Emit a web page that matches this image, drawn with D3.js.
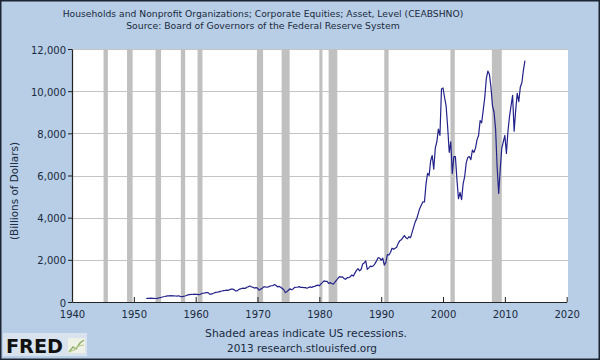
<!DOCTYPE html>
<html><head><meta charset="utf-8">
<script src="https://cdn.jsdelivr.net/npm/d3@7"></script>
<style>html,body{margin:0;padding:0;background:#b7cee6;}svg{display:block;}</style>
</head><body>
<svg id="c" width="600" height="360"></svg>
<script>
// Data: quarterly values (billions of dollars), starting 1952 Q1
const startYear = 1952;
const values = [
 165,170,170,180, 175,170,165,175, 190,205,225,250, 260,275,290,290,
 300,295,290,285, 280,295,270,250, 265,285,310,340, 350,360,355,370,
 360,365,350,365, 405,415,430,450, 445,370,375,400, 430,455,465,480,
 505,520,540,545, 560,550,590,610, 610,575,520,540, 600,620,650,660,
 640,700,720,760, 720,700,660,680, 660,560,610,650, 720,715,700,720,
 750,770,780,830, 780,720,740,700, 640,580,450,490, 560,630,580,620,
 690,700,700,730, 690,700,680,680, 650,690,720,690, 730,740,780,800,
 770,860,920,1000, 980,980,880,920, 880,850,930,1020, 1120,1200,1180,1190,
 1110,1080,1160,1150, 1200,1280,1230,1370, 1500,1580,1480,1540, 1800,1850,1950,1550,
 1620,1700,1680,1720, 1820,1950,2100,2080, 1980,2080,1750,1880, 2250,2230,2350,2550,
 2500,2550,2600,2780, 2900,2950,3050,3150, 3050,3000,3100,3050, 3300,3550,3800,3950,
 4200,4450,4600,4750, 4750,5600,6100,6000, 6700,6950,6300,7300, 7600,8200,7900,10100,
 10150,9700,9300,8300, 7100,7600,6100,6900, 6900,5800,4900,5200, 4850,5600,5950,6600,
 6850,6900,6750,7200, 7100,7300,7700,7900, 8600,8500,9100,9700, 10600,10950,10800,10200,
 9300,9000,8200,6400, 5150,6300,7300,7600, 7900,7050,8100,8800, 9300,9800,8100,9100,
 9900,9500,10200,10400, 11000,11450
];
// Recessions (start, end) in decimal years
const recStart = [1945.1,1948.9,1953.5,1957.6,1960.3,1969.9,1973.9,1980.0,1981.5,1990.5,2001.2,2007.9];
const recEnd   = [1945.8,1949.8,1954.4,1958.3,1961.1,1970.9,1975.2,1980.5,1982.9,1991.2,2001.9,2009.5];
const xTicks = [1940,1950,1960,1970,1980,1990,2000,2010,2020];
const yTicks = [0,2000,4000,6000,8000,10000,12000];
const titleLines = ["Households and Nonprofit Organizations; Corporate Equities; Asset, Level (CEABSHNO)",
                    "Source: Board of Governors of the Federal Reserve System"];
const footLines = ["Shaded areas indicate US recessions.", "2013 research.stlouisfed.org"];
const yLabel = "(Billions of Dollars)";

const data = values.map((v,i)=>({t: startYear + i/4, v}));
const svg = d3.select("#c");
const W=600,H=360;
const txt = "#1b2a40";
const font = "DejaVu Sans, Verdana, sans-serif";

svg.append("rect").attr("x",0).attr("y",0).attr("width",W).attr("height",H).attr("fill","#b7cee6");

const x = d3.scaleLinear().domain([1940,2020]).range([72,566.7]);
const y = d3.scaleLinear().domain([0,12000]).range([302,49]);

// plot background
svg.append("rect").attr("x",72).attr("y",49).attr("width",568-72).attr("height",302-49).attr("fill","#fff");

// gridlines
svg.append("g").selectAll("line").data(yTicks.filter(d=>d>0)).join("line")
  .attr("x1",72).attr("x2",568).attr("y1",d=>Math.round(y(d))+0.5).attr("y2",d=>Math.round(y(d))+0.5)
  .attr("stroke","#c4c4c4").attr("stroke-width",1);

// recessions
svg.append("g").selectAll("rect").data(recStart.map((s,i)=>[s,recEnd[i]])).join("rect")
  .attr("x",d=>x(d[0])).attr("width",d=>x(d[1])-x(d[0])).attr("y",49).attr("height",302-49)
  .attr("fill","#c0c0c0");

// line
svg.append("path").datum(data)
  .attr("d", d3.line().x(d=>x(d.t)).y(d=>y(d.v)))
  .attr("fill","none").attr("stroke","#22228a").attr("stroke-width",1.2).attr("stroke-linejoin","round");

// axes
const xa = svg.append("g").attr("transform","translate(0,302)")
  .call(d3.axisBottom(x).tickValues(xTicks).tickFormat(d3.format("d")).tickSizeInner(-5).tickSizeOuter(0).tickPadding(9));
const ya = svg.append("g").attr("transform","translate(72,0)")
  .call(d3.axisLeft(y).tickValues(yTicks).tickFormat(d3.format(",")).tickSizeInner(4).tickSizeOuter(0).tickPadding(2));
[xa,ya].forEach(a=>{
  a.select(".domain").attr("stroke","#222").attr("stroke-width",1.2);
  a.selectAll(".tick line").attr("stroke","#222");
  a.selectAll("text").attr("font-family",font).attr("font-size",10).attr("fill",txt);
});
ya.selectAll(".tick text").attr("dy","0.4em");

function fit(sel, w){
  const n = sel.node(); const fs = +sel.attr("font-size");
  const cur = n.getComputedTextLength();
  sel.attr("font-size", (fs*w/cur).toFixed(2));
}
// titles
const t1 = svg.append("text").attr("x",263).attr("y",17).attr("text-anchor","middle")
  .attr("font-family",font).attr("font-size",10).attr("fill",txt).text(titleLines[0]);
fit(t1,401);
const t2 = svg.append("text").attr("x",263).attr("y",29).attr("text-anchor","middle")
  .attr("font-family",font).attr("font-size",10).attr("fill",txt).text(titleLines[1]);
fit(t2,274);
// footer
const f1 = svg.append("text").attr("x",306).attr("y",337).attr("text-anchor","middle")
  .attr("font-family",font).attr("font-size",10).attr("fill",txt).text(footLines[0]);
fit(f1,202);
const f2 = svg.append("text").attr("x",302).attr("y",352).attr("text-anchor","middle")
  .attr("font-family",font).attr("font-size",10).attr("fill",txt).text(footLines[1]);
fit(f2,150);
// y label
const yl = svg.append("text").attr("transform","translate(18,191) rotate(-90)").attr("text-anchor","middle")
  .attr("font-family",font).attr("font-size",10).attr("fill",txt).text(yLabel);
fit(yl,98);

// FRED logo
svg.append("rect").attr("x",3).attr("y",333).attr("width",84).attr("height",23).attr("fill","#d8e3ee");
const fr = svg.append("text").attr("x",6).attr("y",353).attr("font-family","DejaVu Sans, sans-serif")
  .attr("font-weight","bold").attr("font-size",20).attr("fill","#111").text("FRED");
fit(fr,57);
const ic = svg.append("g").attr("transform","translate(68,338)");
ic.append("rect").attr("x",0).attr("y",0).attr("width",17).attr("height",15).attr("fill","#eef2e6");
ic.append("path").attr("d","M1,14 L5,9 L8,11 L12,5 L16,2").attr("fill","none").attr("stroke","#8fb06a").attr("stroke-width",1.5);
ic.append("path").attr("d","M1,14 L6,12 L10,8 L16,7").attr("fill","none").attr("stroke","#b8c88a").attr("stroke-width",1.2);

// outer border
svg.append("rect").attr("x",0.75).attr("y",0.75).attr("width",W-1.5).attr("height",H-1.5)
  .attr("fill","none").attr("stroke","#1c2533").attr("stroke-width",1.5);
</script>
</body></html>
